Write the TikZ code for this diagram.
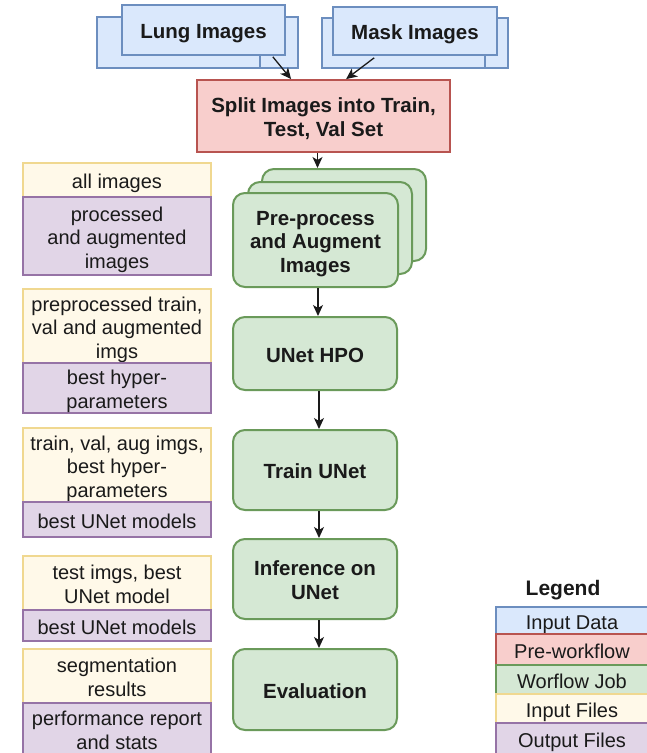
\documentclass[tikz,border=0pt]{standalone}
\usepackage{fontspec}
\setmainfont{Liberation Sans}
\usetikzlibrary{arrows.meta,calc}

\definecolor{bluefill}{HTML}{DAE8FC}
\definecolor{blueline}{HTML}{6C8EBF}
\definecolor{redfill}{HTML}{F8CECC}
\definecolor{redline}{HTML}{B85450}
\definecolor{greenfill}{HTML}{D5E8D4}
\definecolor{greenline}{HTML}{6A9A5A}
\definecolor{yellowfill}{HTML}{FFF9E9}
\definecolor{yellowline}{HTML}{F0D890}
\definecolor{purplefill}{HTML}{E1D5E7}
\definecolor{purpleline}{HTML}{9673A6}
\definecolor{ink}{HTML}{1A1A1A}

% centred lines of text, each line on an equal strut, set slightly low
\newcommand\txtlines[1]{\raisebox{-4pt}[\height][\depth]{%
  \begin{tabular}{@{}c@{}}#1\end{tabular}}}

\tikzset{
  box/.style={rectangle, inner sep=0pt, text=ink,
    font=\fontsize{20}{23.5}\selectfont},
  bbox/.style={box, font=\fontsize{20.5}{23.5}\selectfont\bfseries},
  datain/.style={bbox, fill=bluefill, draw=blueline, line width=1.6pt},
  prewf/.style={bbox, fill=redfill, draw=redline, line width=1.8pt},
  job/.style={bbox, fill=greenfill, draw=greenline, line width=2pt,
    rounded corners=12pt},
  infile/.style={box, fill=yellowfill, draw=yellowline, line width=1.2pt},
  outfile/.style={box, fill=purplefill, draw=purpleline, line width=1.2pt},
  arr/.style={draw=ink, line width=1.3pt, -{Stealth[length=11pt,width=10pt,inset=3pt]}},
}

\begin{document}
\begin{tikzpicture}[x=1pt,y=-1pt]
\useasboundingbox (0,0) rectangle (647,753);
\begin{scope}
\clip (0,0) rectangle (647,753);

% input data stacks
\node[datain, minimum width=188pt, minimum height=51pt] (lungb2) at (204,42.5) {};
\node[datain, minimum width=163pt, minimum height=51pt] (lungb1) at (178.5,42.5) {};
\node[datain, minimum width=163pt, minimum height=50pt] (lung) at (203.5,30) {\txtlines{Lung Images}};

\node[datain, minimum width=173pt, minimum height=50pt] (maskb2) at (421.5,43) {};
\node[datain, minimum width=163pt, minimum height=50pt] (maskb1) at (403.5,43) {};
\node[datain, minimum width=164pt, minimum height=48pt] (mask) at (415,31) {\txtlines{Mask Images}};

% pre-workflow step
\node[prewf, minimum width=253pt, minimum height=72pt] (split) at (323.5,116)
  {\txtlines{Split Images into Train,\\Test, Val Set}};

% workflow jobs
\node[job, minimum width=164pt, minimum height=92pt] (pp3) at (344,215) {};
\node[job, minimum width=164pt, minimum height=92pt] (pp2) at (330,228) {};
\node[job, minimum width=165pt, minimum height=94pt] (pp) at (315.5,240)
  {\txtlines{Pre-process\\and Augment\\Images}};
\node[job, minimum width=164pt, minimum height=73pt] (hpo) at (315,353.5) {\txtlines{UNet HPO}};
\node[job, minimum width=164pt, minimum height=80pt] (train) at (315,470) {\txtlines{Train UNet}};
\node[job, minimum width=164pt, minimum height=80pt] (infer) at (315,579) {\txtlines{Inference on\\UNet}};
\node[job, minimum width=164pt, minimum height=81pt] (eval) at (315,689.5) {\txtlines{Evaluation}};

% connectors
\coordinate (lungout) at ($(lung.south east)+(-13,1)$);
\coordinate (splitinL) at ($(split.north west)+(95,0)$);
\coordinate (maskout) at ($(mask.south west)+(42,2)$);
\coordinate (splitinR) at ($(split.north west)+(150,0)$);
\draw[arr] (lungout) -- (splitinL);
\draw[arr] (maskout) -- (splitinR);
\draw[arr] ([xshift=2pt]pp.north |- split.south) -- ([xshift=2pt]pp.north |- pp3.north);
\draw[arr] ([xshift=3pt]hpo.north |- pp.south) -- ([xshift=3pt]hpo.north);
\draw[arr] ([xshift=4pt]hpo.south) -- ([xshift=4pt]train.north);
\draw[arr] ([xshift=4pt]train.south) -- ([xshift=4pt]infer.north);
\draw[arr] ([xshift=4pt]infer.south) -- ([xshift=4pt]eval.north);

% input and output files of each job
\node[infile, minimum width=188pt, minimum height=34pt] (in1) at (117,180) {\txtlines{all images}};
\node[outfile, minimum width=188pt, minimum height=78pt] (out1) at (117,236)
  {\txtlines{processed\\and augmented\\images}};

\node[infile, minimum width=188pt, minimum height=74pt] (in2) at (117,326)
  {\txtlines{preprocessed train,\\val and augmented\\imgs}};
\node[outfile, minimum width=188pt, minimum height=50pt] (out2) at (117,388)
  {\txtlines{best hyper-\\parameters}};

\node[infile, minimum width=188pt, minimum height=74pt] (in3) at (117,465)
  {\txtlines{train, val, aug imgs,\\best hyper-\\parameters}};
\node[outfile, minimum width=188pt, minimum height=35pt] (out3) at (117,519.5)
  {\txtlines{best UNet models}};

\node[infile, minimum width=188pt, minimum height=54pt] (in4) at (117,583)
  {\txtlines{test imgs, best\\UNet model}};
\node[outfile, minimum width=188pt, minimum height=31pt] (out4) at (117,625.5)
  {\txtlines{best UNet models}};

\node[infile, minimum width=188pt, minimum height=54pt] (in5) at (117,676)
  {\txtlines{segmentation\\results}};
\node[outfile, minimum width=188pt, minimum height=52pt] (out5) at (117,729)
  {\txtlines{performance report\\and stats}};

% legend
\node[box, font=\fontsize{21}{24}\selectfont\bfseries] (legend) at (563,587) {\txtlines{Legend}};
\node[box, fill=bluefill, draw=blueline, line width=1.2pt,
  minimum width=152pt, minimum height=27pt] (lg1) at (572,620.5) {\txtlines{Input Data}};
\node[box, fill=redfill, draw=redline, line width=1.2pt,
  minimum width=152pt, minimum height=31pt] (lg2) at (572,649.5) {\txtlines{Pre-workflow}};
\node[box, fill=greenfill, draw=greenline, line width=1.2pt,
  minimum width=152pt, minimum height=29pt] (lg3) at (572,679.5) {\txtlines{Worflow Job}};
\node[box, fill=yellowfill, draw=yellowline, line width=1.2pt,
  minimum width=152pt, minimum height=29pt] (lg4) at (572,708.5) {\txtlines{Input Files}};
\node[box, fill=purplefill, draw=purpleline, line width=1.2pt,
  minimum width=152pt, minimum height=32pt] (lg5) at (572,739) {\txtlines{Output Files}};
\end{scope}
\end{tikzpicture}
\end{document}
